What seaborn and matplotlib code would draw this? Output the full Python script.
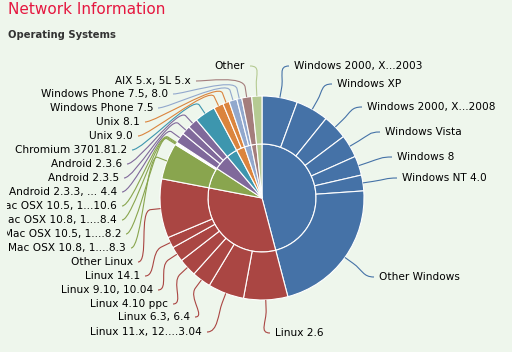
import matplotlib
matplotlib.use("Agg")
import numpy as np
import matplotlib.pyplot as plt
import seaborn as sns
from matplotlib.path import Path
from matplotlib.patches import PathPatch, Rectangle

# ---------------- data ----------------
categories = ["Windows", "Linux", "Mac OSX", "Android", "Chromium", "Unix",
              "Windows Phone", "AIX", "Other"]

windows_names = ["Windows 2000, X...2003", "Windows XP", "Windows 2000, X...2008",
                 "Windows Vista", "Windows 8", "Windows NT 4.0", "Other Windows"]
windows_values = [5.61, 5.19, 3.92, 3.61, 3.06, 2.50, 22.03]

linux_names = ["Linux 2.6", "Linux 11.x, 12....3.04", "Linux 6.3, 6.4", "Linux 4.10 ppc",
               "Linux 9.10, 10.04", "Linux 14.1", "Other Linux"]
linux_values = [7.00, 5.72, 3.00, 2.86, 2.42, 1.75, 9.36]

mac_names = ["Mac OSX 10.8, 1....8.3", "Mac OSX 10.5, 1....8.2",
             "Mac OSX 10.8, 1....8.4", "Mac OSX 10.5, 1...10.6"]
mac_values = [5.78, 0.14, 0.14, 0.14]

android_names = ["Android 2.3.3, ... 4.4", "Android 2.3.5", "Android 2.3.6"]
android_values = [1.67, 1.39, 1.61]

chromium_names = ["Chromium 3701.81.2"]
chromium_values = [3.33]

unix_names = ["Unix 9.0", "Unix 8.1"]
unix_values = [1.53, 1.03]

winphone_names = ["Windows Phone 7.5", "Windows Phone 7.5, 8.0"]
winphone_values = [1.25, 0.78]

aix_names = ["AIX 5.x, 5L 5.x"]
aix_values = [1.58]

other_names = ["Other"]
other_values = [1.61]

sub_names = [windows_names, linux_names, mac_names, android_names, chromium_names,
             unix_names, winphone_names, aix_names, other_names]
sub_values = [windows_values, linux_values, mac_values, android_values, chromium_values,
              unix_values, winphone_values, aix_values, other_values]

# ---------------- layout / style ----------------
palette = sns.color_palette(["#4572A7", "#AA4643", "#89A54E", "#80699B", "#3D96AE",
                             "#DB843D", "#92A8CD", "#A47D7C", "#B5CA92"])
BG = "#EEF6EC"
W, H = 512, 352
CX, CY = 262, H - 198
R_OUT, R_IN = 102, 54
CLIP_X = 7

# label anchors in pixel coords (x = text start on right side, text end on left side)
label_layout = {
    "Windows 2000, X...2003": ("R", 294, 66),
    "Windows XP": ("R", 337, 84),
    "Windows 2000, X...2008": ("R", 367, 107),
    "Windows Vista": ("R", 385, 132),
    "Windows 8": ("R", 397, 157),
    "Windows NT 4.0": ("R", 402, 178),
    "Other Windows": ("R", 379, 277),
    "Linux 2.6": ("R", 275, 333),
    "Linux 11.x, 12....3.04": ("L", 202, 332),
    "Linux 6.3, 6.4": ("L", 190, 317),
    "Linux 4.10 ppc": ("L", 168, 304),
    "Linux 9.10, 10.04": ("L", 153, 290),
    "Linux 14.1": ("L", 140, 276),
    "Other Linux": ("L", 133, 262),
    "Mac OSX 10.8, 1....8.3": ("L", 126, 248),
    "Mac OSX 10.5, 1....8.2": ("L", 121, 234),
    "Mac OSX 10.8, 1....8.4": ("L", 117, 220),
    "Mac OSX 10.5, 1...10.6": ("L", 117, 206),
    "Android 2.3.3, ... 4.4": ("L", 117, 192),
    "Android 2.3.5": ("L", 119, 178),
    "Android 2.3.6": ("L", 122, 164),
    "Chromium 3701.81.2": ("L", 127, 150),
    "Unix 9.0": ("L", 133, 136),
    "Unix 8.1": ("L", 140, 122),
    "Windows Phone 7.5": ("L", 153, 108),
    "Windows Phone 7.5, 8.0": ("L", 168, 94),
    "AIX 5.x, 5L 5.x": ("L", 191, 81),
    "Other": ("L", 245, 66),
}

sns.set_theme(style="white")
plt.rcParams["font.family"] = ["DejaVu Sans"]

fig = plt.figure(figsize=(W / 100, H / 100), dpi=100)
fig.patch.set_facecolor(BG)
ax = fig.add_axes([0, 0, 1, 1])
ax.set_facecolor(BG)

inner_values = [sum(v) for v in sub_values]
ax.pie(inner_values, radius=R_IN, center=(CX, CY), startangle=90, counterclock=False,
       colors=palette, wedgeprops=dict(edgecolor="white", linewidth=0.8))

outer_values, outer_colors, outer_names = [], [], []
for i, (names, vals) in enumerate(zip(sub_names, sub_values)):
    outer_values += vals
    outer_names += names
    outer_colors += [palette[i]] * len(vals)

wedges, _ = ax.pie(outer_values, radius=R_OUT, center=(CX, CY), startangle=90,
                   counterclock=False, colors=outer_colors,
                   wedgeprops=dict(width=R_OUT - R_IN, edgecolor="white", linewidth=0.8))

ax.set_xlim(0, W)
ax.set_ylim(0, H)
ax.set_aspect("equal")
ax.axis("off")

clip_rect = Rectangle((CLIP_X, 0), W - CLIP_X, H, transform=ax.transData,
                      facecolor="none", edgecolor="none")

for w, name, col in zip(wedges, outer_names, outer_colors):
    mid = np.deg2rad((w.theta1 + w.theta2) / 2)
    d = np.array([np.cos(mid), np.sin(mid)])
    c = np.array([CX, CY])
    edge = c + R_OUT * d
    p3 = c + (R_OUT + 10) * d
    p2 = c + (R_OUT + 22) * d
    side, lx, ly = label_layout[name]
    ly = H - ly
    if side == "R":
        p0 = np.array([lx - 5, ly]); p1 = np.array([lx - 16, ly]); ha = "left"
    else:
        p0 = np.array([lx + 5, ly]); p1 = np.array([lx + 16, ly]); ha = "right"
    path = Path([p0, p1, p2, p3, edge],
                [Path.MOVETO, Path.CURVE4, Path.CURVE4, Path.CURVE4, Path.LINETO])
    ax.add_patch(PathPatch(path, facecolor="none", edgecolor=col, lw=0.8))
    t = ax.text(lx, ly, name, ha=ha, va="center", fontsize=7.6, color="#000000",
                clip_on=True)
    t.set_clip_path(clip_rect)

fig.text(8 / W, 1 - 10 / H, "Network Information", ha="left", va="center",
         fontsize=11, color="#E5173F")
fig.text(8 / W, 1 - 35 / H, "Operating Systems", ha="left", va="center",
         fontsize=7.2, fontweight="bold", color="#333333")

fig.savefig("out.png", dpi=100, facecolor=BG)
